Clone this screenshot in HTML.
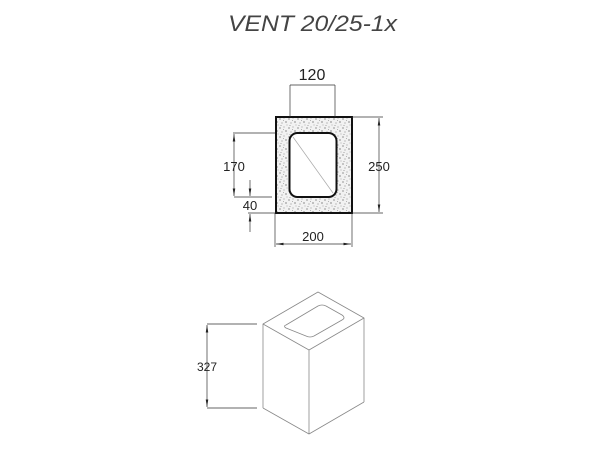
<!DOCTYPE html>
<html><head><meta charset="utf-8"><style>
html,body{margin:0;padding:0;background:#fff;}
svg{display:block;}
text{font-family:"Liberation Sans",sans-serif;fill:#222;}
</style></head><body>
<svg width="600" height="450" viewBox="0 0 600 450" xmlns="http://www.w3.org/2000/svg">
<defs>
<marker id="a" viewBox="0 0 10 10" refX="10" refY="5" markerWidth="11" markerHeight="11" orient="auto-start-reverse">
<path d="M0,3.3 L10,5 L0,6.7 z" fill="#222"/></marker>
<pattern id="sp" width="9" height="9" patternUnits="userSpaceOnUse">
<rect width="9" height="9" fill="#f2f2f2"/>
<circle cx="1" cy="2" r="0.6" fill="#555"/><circle cx="5" cy="1" r="0.5" fill="#777"/>
<circle cx="7" cy="5" r="0.6" fill="#444"/><circle cx="3" cy="6" r="0.5" fill="#666"/>
<circle cx="8" cy="8" r="0.4" fill="#555"/><circle cx="2" cy="8.5" r="0.5" fill="#888"/>
<circle cx="4.5" cy="3.5" r="0.4" fill="#666"/>
</pattern>
</defs>
<text x="228" y="31" font-size="22" font-style="italic" textLength="169" lengthAdjust="spacingAndGlyphs" style="fill:#444">VENT 20/25-1x</text>

<rect x="276" y="117" width="76" height="96" fill="url(#sp)" stroke="#111" stroke-width="2"/>
<rect x="289.5" y="133" width="47" height="64" rx="8" fill="#fff" stroke="#111" stroke-width="2"/>
<line x1="293" y1="137" x2="333" y2="193" stroke="#aaa" stroke-width="0.7"/>

<g stroke="#333" stroke-width="0.7" fill="none">
<line x1="290" y1="85" x2="290" y2="117"/><line x1="335" y1="85" x2="335" y2="117"/><line x1="290" y1="85" x2="335" y2="85"/>
<line x1="352" y1="117" x2="383" y2="117"/><line x1="352" y1="213" x2="383" y2="213"/>
<line x1="379" y1="118" x2="379" y2="212" marker-start="url(#a)" marker-end="url(#a)"/>
<line x1="233" y1="133" x2="275" y2="133"/><line x1="234" y1="197" x2="272" y2="197"/>
<line x1="234" y1="134" x2="234" y2="196" marker-start="url(#a)" marker-end="url(#a)"/>
<line x1="248" y1="213" x2="275" y2="213"/>
<line x1="250" y1="180" x2="250" y2="196" marker-end="url(#a)"/>
<line x1="250" y1="232" x2="250" y2="214" marker-end="url(#a)"/>
<line x1="275" y1="213" x2="275" y2="247"/><line x1="352" y1="213" x2="352" y2="247"/>
<line x1="276" y1="244" x2="351" y2="244" marker-start="url(#a)" marker-end="url(#a)"/>
</g>
<text x="312" y="80" font-size="16" text-anchor="middle">120</text>
<text x="379" y="171" font-size="13" text-anchor="middle">250</text>
<text x="234" y="171" font-size="13" text-anchor="middle">170</text>
<text x="250" y="210" font-size="13" text-anchor="middle">40</text>
<text x="313" y="241" font-size="13" text-anchor="middle">200</text>

<g stroke="#888" stroke-width="0.8" fill="none" stroke-linejoin="round">
<polygon points="318,292 364,318 309,350 263,324"/>
<line x1="263" y1="324" x2="263" y2="408"/>
<line x1="309" y1="350" x2="309" y2="434"/>
<line x1="364" y1="318" x2="364" y2="402"/>
<polyline points="263,408 309,434 364,402"/>
<path d="M286,325 L318,306 Q322,304 326,306 L342,315 Q346,318 342,320 L314,336 Q310,338 306,336 L286,328 Q283,326 286,325 Z"/>
</g>
<g stroke="#333" stroke-width="0.7" fill="none">
<line x1="207" y1="324" x2="257" y2="324"/><line x1="207" y1="408" x2="257" y2="408"/>
<line x1="207" y1="325" x2="207" y2="407" marker-start="url(#a)" marker-end="url(#a)"/>
</g>
<text x="207" y="371" font-size="12" text-anchor="middle">327</text>
</svg>
</body></html>
